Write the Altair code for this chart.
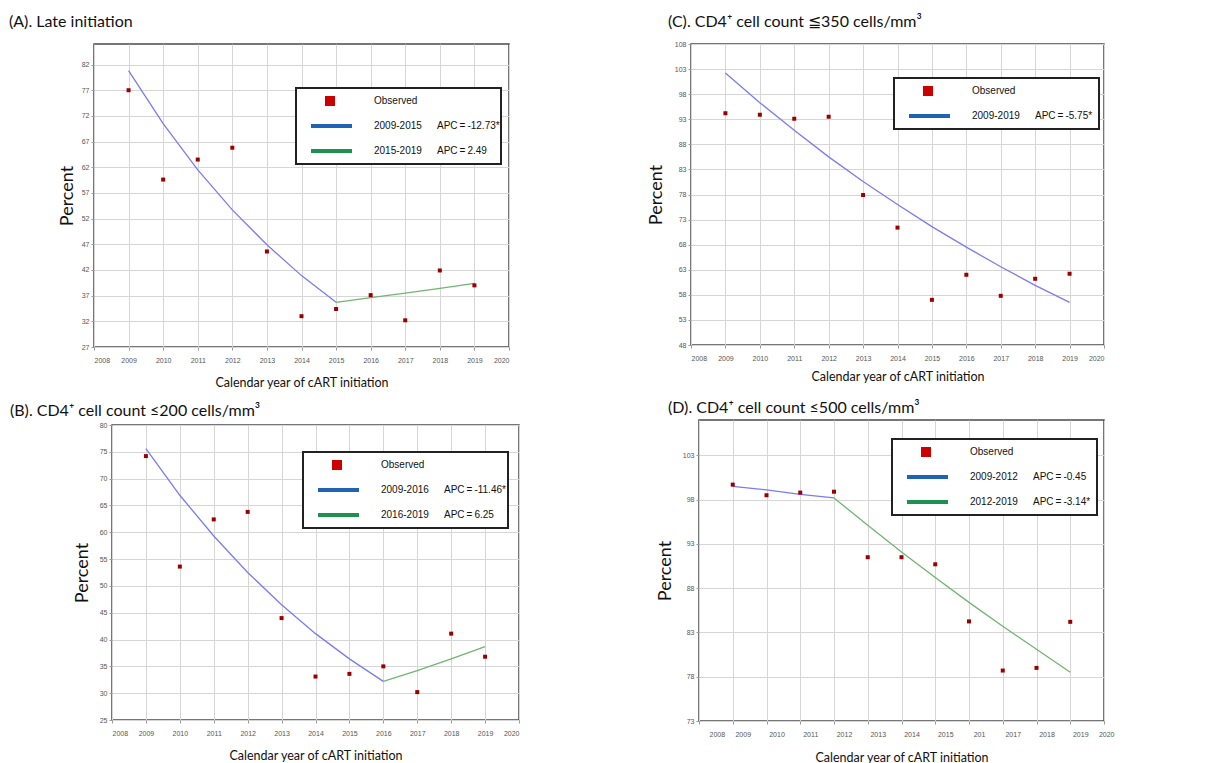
import altair as alt
import pandas as pd

# ---------------- data ----------------
YEARS = [2009, 2010, 2011, 2012, 2013, 2014, 2015, 2016, 2017, 2018, 2019]
X_TICKS = [2008, 2009, 2010, 2011, 2012, 2013, 2014, 2015, 2016, 2017, 2018, 2019, 2020]

# (A) Late initiation
A_OBS = [77.0, 59.6, 63.5, 65.8, 45.6, 33.0, 34.4, 37.1, 32.2, 41.9, 39.0]
A_SEG1_YEARS = [2009, 2010, 2011, 2012, 2013, 2014, 2015]
A_SEG1 = [80.8, 70.5, 61.5, 53.7, 46.9, 40.9, 35.7]
A_SEG2_YEARS = [2015, 2016, 2017, 2018, 2019]
A_SEG2 = [35.7, 36.6, 37.5, 38.4, 39.4]
A_TICKS = [27, 32, 37, 42, 47, 52, 57, 62, 67, 72, 77, 82]
A_LEG_PERIODS = ["2009-2015", "2015-2019"]
A_LEG_APC = ["APC\u2009=\u2009-12.73*", "APC\u2009=\u20092.49"]

# (C) CD4 <= 350
C_OBS = [94.2, 93.9, 93.1, 93.5, 77.9, 71.4, 57.0, 62.0, 57.8, 61.2, 62.2]
C_SEG1_YEARS = YEARS
C_SEG1 = [102.2, 96.3, 90.8, 85.5, 80.6, 76.0, 71.6, 67.5, 63.6, 59.9, 56.5]
C_TICKS = [48, 53, 58, 63, 68, 73, 78, 83, 88, 93, 98, 103, 108]
C_LEG_PERIODS = ["2009-2019"]
C_LEG_APC = ["APC\u2009=\u2009-5.75*"]

# (B) CD4 <= 200
B_OBS = [74.2, 53.6, 62.4, 63.8, 44.0, 33.1, 33.6, 35.0, 30.2, 41.1, 36.8]
B_SEG1_YEARS = [2009, 2010, 2011, 2012, 2013, 2014, 2015, 2016]
B_SEG1 = [75.6, 66.9, 59.3, 52.5, 46.5, 41.1, 36.4, 32.2]
B_SEG2_YEARS = [2016, 2017, 2018, 2019]
B_SEG2 = [32.2, 34.2, 36.4, 38.7]
B_TICKS = [25, 30, 35, 40, 45, 50, 55, 60, 65, 70, 75, 80]
B_LEG_PERIODS = ["2009-2016", "2016-2019"]
B_LEG_APC = ["APC\u2009=\u2009-11.46*", "APC\u2009=\u20096.25"]

# (D) CD4 <= 500
D_OBS = [99.7, 98.5, 98.8, 98.9, 91.5, 91.5, 90.7, 84.25, 78.7, 79.0, 84.2]
D_SEG1_YEARS = [2009, 2010, 2011, 2012]
D_SEG1 = [99.5, 99.1, 98.6, 98.2]
D_SEG2_YEARS = [2012, 2013, 2014, 2015, 2016, 2017, 2018, 2019]
D_SEG2 = [98.2, 95.1, 92.1, 89.2, 86.4, 83.7, 81.1, 78.5]
D_TICKS = [73, 78, 83, 88, 93, 98, 103]
D_LEG_PERIODS = ["2009-2012", "2012-2019"]
D_LEG_APC = ["APC\u2009=\u2009-0.45", "APC\u2009=\u2009-3.14*"]

# ---------------- styling ----------------
FIT_BLUE = "#7b7bf3"
FIT_GREEN = "#72b472"
OBS_RED = "#9b0000"
LEG_RED = "#cc0000"
LEG_BLUE = "#1f63b5"
LEG_GREEN = "#1e9150"
TITLE_FONT = "Lato"
LEG_FONT = "Liberation Sans"

DUMMY = pd.DataFrame({"k": [0]})


def legend_layers(bx, by, periods, apcs):
    n = len(periods) + 1
    layers = [
        alt.Chart(DUMMY).mark_rect(fill="white", stroke="#222222", strokeWidth=2).encode(
            x=alt.value(bx), x2=alt.value(bx + 205), y=alt.value(by), y2=alt.value(by + 25 * n + 1)
        ),
        alt.Chart(DUMMY).mark_square(size=100, color=LEG_RED, opacity=1).encode(
            x=alt.value(bx + 34), y=alt.value(by + 13)
        ),
        alt.Chart(DUMMY).mark_text(text="Observed", align="left", baseline="middle",
                                   font=LEG_FONT, fontSize=10, color="#111").encode(
            x=alt.value(bx + 78), y=alt.value(by + 13)
        ),
    ]
    colors = [LEG_BLUE, LEG_GREEN]
    for i, (p, a) in enumerate(zip(periods, apcs)):
        yy = by + 13 + 25 * (i + 1)
        layers += [
            alt.Chart(DUMMY).mark_rule(color=colors[i], strokeWidth=4).encode(
                x=alt.value(bx + 15), x2=alt.value(bx + 56), y=alt.value(yy)
            ),
            alt.Chart(DUMMY).mark_text(text=p, align="left", baseline="middle",
                                       font=LEG_FONT, fontSize=10, color="#111").encode(
                x=alt.value(bx + 78), y=alt.value(yy)
            ),
            alt.Chart(DUMMY).mark_text(text=a, align="left", baseline="middle",
                                       font=LEG_FONT, fontSize=10, color="#111").encode(
                x=alt.value(bx + 141), y=alt.value(yy)
            ),
        ]
    return layers


def panel(obs, segs, ydom, yticks, w, h, title, tdx, toff, lbox, periods, apcs,
          ytitle_pad, xtitle_pad=8, label_offset=0, label_expr=None):
    xaxis_kw = dict(values=X_TICKS, format="d", title="Calendar year of cART initiation",
                    labelOffset=label_offset, titlePadding=xtitle_pad)
    if label_expr:
        xaxis_kw["labelExpr"] = label_expr
    x = alt.X("year:Q", scale=alt.Scale(domain=[2008, 2020], nice=False, zero=False),
              axis=alt.Axis(**xaxis_kw))
    y = alt.Y("pct:Q", scale=alt.Scale(domain=ydom, nice=False, zero=False),
              axis=alt.Axis(values=yticks, title="Percent", titlePadding=ytitle_pad))
    layers = []
    seg_colors = [FIT_BLUE, FIT_GREEN]
    for i, (yrs, vals) in enumerate(segs):
        df = pd.DataFrame({"year": yrs, "pct": vals})
        layers.append(alt.Chart(df).mark_line(color=seg_colors[i], strokeWidth=1.3).encode(x=x, y=y))
    odf = pd.DataFrame({"year": YEARS, "pct": obs})
    layers.append(alt.Chart(odf).mark_square(size=16, color=OBS_RED, opacity=1).encode(x=x, y=y))
    layers += legend_layers(lbox[0], lbox[1], periods, apcs)
    return alt.layer(*layers).properties(
        width=w, height=h,
        title=alt.TitleParams(text=title, anchor="start", frame="group", dx=tdx, offset=toff,
                              font=TITLE_FONT, fontSize=16, fontWeight="normal", color="#111"),
    )


def spacer(w, h):
    return alt.Chart(DUMMY).mark_text(text="").encode(
        x=alt.value(0), y=alt.value(0)
    ).properties(width=w, height=h, view=alt.ViewBackground(stroke="transparent"))


pA = panel(A_OBS, [(A_SEG1_YEARS, A_SEG1), (A_SEG2_YEARS, A_SEG2)], [27, 86], A_TICKS,
           415, 303, "(A). Late initiation", -85, 14, (202, 44), A_LEG_PERIODS, A_LEG_APC, 5,
           xtitle_pad=13)
pC = panel(C_OBS, [(C_SEG1_YEARS, C_SEG1)], [48, 108], C_TICKS,
           413, 301, "(C). CD4\u207a cell count \u2266350 cells/mm\u00b3", -23, 10, (203, 34),
           C_LEG_PERIODS, C_LEG_APC, 9, xtitle_pad=9)
pB = panel(B_OBS, [(B_SEG1_YEARS, B_SEG1), (B_SEG2_YEARS, B_SEG2)], [25, 80], B_TICKS,
           407, 295, "(B). CD4\u207a cell count \u2264200 cells/mm\u00b3", -102, 2, (191, 27),
           B_LEG_PERIODS, B_LEG_APC, 8, xtitle_pad=13)
pD = panel(D_OBS, [(D_SEG1_YEARS, D_SEG1), (D_SEG2_YEARS, D_SEG2)], [73, 107], D_TICKS,
           405, 301, "(D). CD4\u207a cell count \u2264500 cells/mm\u00b3", -31, 4, (193, 19),
           D_LEG_PERIODS, D_LEG_APC, 8, xtitle_pad=14, label_offset=10,
           label_expr="datum.value == 2016 ? '201' : datum.label")

itemB = alt.vconcat(
    spacer(1, 5),
    alt.hconcat(spacer(18, 1), pB, spacing=0, bounds="flush"),
    spacing=0, bounds="flush",
)
itemD = alt.hconcat(spacer(8, 1), pD, spacing=0, bounds="flush")

chart = alt.concat(
    pA, pC, itemB, itemD,
    columns=2, bounds="flush", spacing={"row": 73, "column": 182},
).properties(
    padding={"left": 0, "top": 5, "right": 5, "bottom": 0},
    background="white",
).configure_view(
    stroke="#4a4a4a", strokeWidth=1.5
).configure_axis(
    grid=True, gridColor="#d6d6d6", gridWidth=1, domain=False,
    tickColor="#999999", tickSize=3,
    labelFont=LEG_FONT, labelFontSize=7, labelColor="#555555",
    titleFont=TITLE_FONT, titleFontWeight="normal", titleColor="#111111",
).configure_axisX(
    labelPadding=6, titleFontSize=12.5
).configure_axisY(
    labelPadding=2, titleFontSize=18
)

chart.save("out.html", embed_options={"renderer": "svg", "actions": False})
